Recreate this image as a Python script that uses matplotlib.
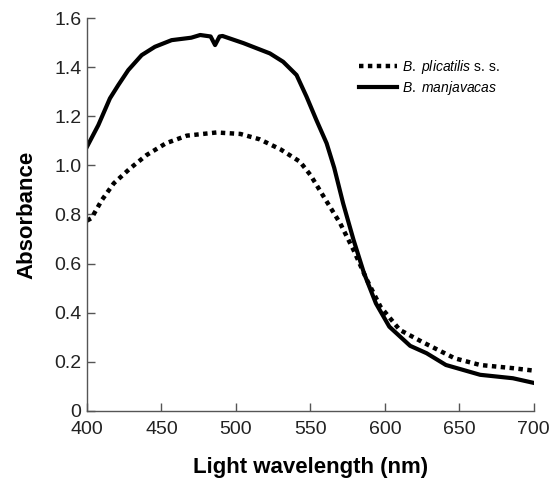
import numpy as np
import matplotlib.pyplot as plt

plt.rcParams['font.family'] = ['Liberation Sans', 'DejaVu Sans']
plt.rcParams['mathtext.fontset'] = 'custom'
plt.rcParams['mathtext.it'] = 'Liberation Sans:italic'
plt.rcParams['mathtext.rm'] = 'Liberation Sans'

# B. manjavacas (solid)
wl_manj = [400, 407.6, 415.4, 421, 427.7, 436.7, 445.6, 456.8, 470, 476, 483,
           486, 489, 491, 505, 522.8, 531.7, 540.7, 547.4, 554, 560.9, 566,
           572, 579, 586, 594, 603, 617, 628, 641, 664, 686, 700]
abs_manj = [1.076, 1.164, 1.273, 1.327, 1.388, 1.449, 1.483, 1.510, 1.520, 1.531,
            1.525, 1.490, 1.525, 1.527, 1.498, 1.456, 1.422, 1.368, 1.280, 1.185,
            1.090, 0.990, 0.845, 0.696, 0.561, 0.438, 0.343, 0.265, 0.235, 0.187,
            0.147, 0.133, 0.114]

# B. plicatilis s. s. (dotted)
wl_plic = [400, 403, 410, 418, 429, 440, 453, 467, 487, 503, 516, 530, 543,
           550, 559, 570, 579, 588, 597, 610, 626, 647, 664, 686, 700]
abs_plic = [0.775, 0.785, 0.859, 0.927, 0.988, 1.042, 1.090, 1.121, 1.134, 1.128,
            1.106, 1.065, 1.015, 0.961, 0.872, 0.764, 0.655, 0.533, 0.425, 0.330,
            0.278, 0.214, 0.187, 0.174, 0.164]

fig = plt.figure(figsize=(5.56, 4.88), dpi=100)
ax = fig.add_axes([0.1565, 0.158, 0.8035, 0.805])

ax.plot(wl_plic, abs_plic, color='black', lw=3.2, ls=(0, (1, 1)),
        label=r'$\it{B.\ plicatilis}$ s. s.')
ax.plot(wl_manj, abs_manj, color='black', lw=3.0,
        label=r'$\it{B.\ manjavacas}$')

ax.set_xlim(400, 700)
ax.set_ylim(0, 1.6)
ax.set_xticks(np.arange(400, 701, 50))
ax.set_yticks(np.arange(0, 1.61, 0.2))
ax.set_yticklabels(['0'] + ['%.1f' % v for v in np.arange(0.2, 1.61, 0.2)])

for s in ['top', 'right']:
    ax.spines[s].set_visible(False)
for s in ['left', 'bottom']:
    ax.spines[s].set_color('#555555')
    ax.spines[s].set_linewidth(1.0)
ax.tick_params(direction='in', length=6, width=1, color='#555555',
               labelsize=14, labelcolor='#222222')
ax.tick_params(axis='x', pad=7)
ax.tick_params(axis='y', pad=4)

ax.set_xlabel('Light wavelength (nm)', fontsize=16, fontweight='bold', labelpad=14)
ax.set_ylabel('Absorbance', fontsize=16, fontweight='bold', labelpad=12)

ax.legend(loc='upper right', bbox_to_anchor=(0.951, 0.93), frameon=False,
          fontsize=10, handlelength=2.7, handletextpad=0.35, labelspacing=0.2)

fig.savefig('out.png', dpi=100)
